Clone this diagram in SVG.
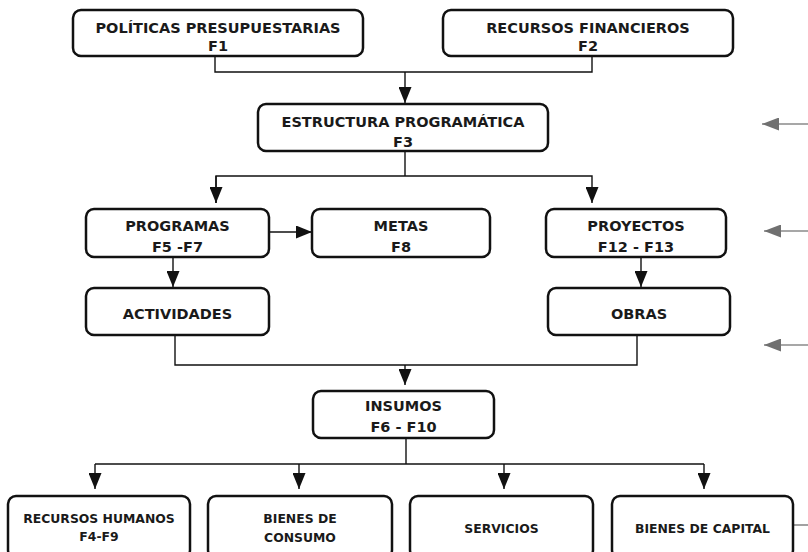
<svg xmlns="http://www.w3.org/2000/svg" width="808" height="552" viewBox="0 0 808 552">
  <defs>
    <style>
      .box { fill: #ffffff; stroke: #111111; stroke-width: 2.5; }
      .t { font-family: "DejaVu Sans", "Liberation Sans", sans-serif; font-weight: bold; font-size: 14.5px; fill: #1a1a1a; text-anchor: middle; }
      .s { font-size: 12.4px; }
      .wire { fill: none; stroke: #111111; stroke-width: 1.4; }
      .side { fill: none; stroke: #8a8a8a; stroke-width: 1.6; }
    </style>
    <marker id="arrow" markerUnits="userSpaceOnUse" markerWidth="16" markerHeight="13" refX="16" refY="6.5" orient="auto">
      <path d="M0,0 L16,6.5 L0,13 z" fill="#111111"/>
    </marker>
    <marker id="arrowGray" markerUnits="userSpaceOnUse" markerWidth="17" markerHeight="13" refX="17" refY="6.5" orient="auto">
      <path d="M0,0 L17,6.5 L0,13 z" fill="#707070"/>
    </marker>
  </defs>

  <!-- connectors -->
  <g id="connectors">
    <path class="wire" d="M215,56 V72 H592 V56"/>
    <path class="wire" d="M405,72 V103" marker-end="url(#arrow)"/>
    <path class="wire" d="M405,151 V176"/>
    <path class="wire" d="M216,203 V176 H592 V203" marker-end="url(#arrow)"/>
    <path class="wire" d="M216,176 V203" marker-end="url(#arrow)"/>
    <path class="wire" d="M269,232 H312" marker-end="url(#arrow)"/>
    <path class="wire" d="M173,257 V287" marker-end="url(#arrow)"/>
    <path class="wire" d="M641,257 V287" marker-end="url(#arrow)"/>
    <path class="wire" d="M175,335 V365 H637 V335"/>
    <path class="wire" d="M405,365 V385" marker-end="url(#arrow)"/>
    <path class="wire" d="M406,438 V464"/>
    <path class="wire" d="M95,464 H704"/>
    <path class="wire" d="M95,464 V489" marker-end="url(#arrow)"/>
    <path class="wire" d="M299,464 V489" marker-end="url(#arrow)"/>
    <path class="wire" d="M504,464 V489" marker-end="url(#arrow)"/>
    <path class="wire" d="M704,464 V489" marker-end="url(#arrow)"/>
    <path class="side" d="M808,124 H762" marker-end="url(#arrowGray)"/>
    <path class="side" d="M808,231 H764" marker-end="url(#arrowGray)"/>
    <path class="side" d="M808,345 H764" marker-end="url(#arrowGray)"/>
    <path class="side" d="M793,525 H808"/>
  </g>

  <g id="politicas">
    <rect class="box" x="73" y="10" width="290" height="46" rx="8"/>
    <text class="t" x="218" y="32.5">POLÍTICAS PRESUPUESTARIAS</text>
    <text class="t" x="218" y="51">F1</text>
  </g>
  <g id="recursos-financieros">
    <rect class="box" x="443" y="10" width="290" height="46" rx="8"/>
    <text class="t" x="588" y="32.5">RECURSOS FINANCIEROS</text>
    <text class="t" x="588" y="51">F2</text>
  </g>
  <g id="estructura">
    <rect class="box" x="258" y="104" width="290" height="47" rx="8"/>
    <text class="t" x="403" y="126.5">ESTRUCTURA PROGRAMÁTICA</text>
    <text class="t" x="403" y="147">F3</text>
  </g>
  <g id="programas">
    <rect class="box" x="86" y="209" width="183" height="48" rx="8"/>
    <text class="t" x="177.5" y="231">PROGRAMAS</text>
    <text class="t" x="177.5" y="251.5">F5 -F7</text>
  </g>
  <g id="metas">
    <rect class="box" x="312" y="209" width="178" height="48" rx="8"/>
    <text class="t" x="401" y="231">METAS</text>
    <text class="t" x="401" y="251.5">F8</text>
  </g>
  <g id="proyectos">
    <rect class="box" x="546" y="209" width="180" height="48" rx="8"/>
    <text class="t" x="636" y="231">PROYECTOS</text>
    <text class="t" x="636" y="251.5">F12 - F13</text>
  </g>
  <g id="actividades">
    <rect class="box" x="86" y="288" width="183" height="47" rx="8"/>
    <text class="t" x="177.5" y="319">ACTIVIDADES</text>
  </g>
  <g id="obras">
    <rect class="box" x="548" y="288" width="182" height="47" rx="8"/>
    <text class="t" x="639" y="319">OBRAS</text>
  </g>
  <g id="insumos">
    <rect class="box" x="313" y="391" width="181" height="47" rx="8"/>
    <text class="t" x="403.5" y="410.5">INSUMOS</text>
    <text class="t" x="403.5" y="432">F6 - F10</text>
  </g>
  <g id="recursos-humanos">
    <rect class="box" x="8" y="496" width="182" height="62" rx="8"/>
    <text class="t s" x="99" y="523">RECURSOS HUMANOS</text>
    <text class="t s" x="99" y="541">F4-F9</text>
  </g>
  <g id="bienes-consumo">
    <rect class="box" x="208" y="496" width="184" height="62" rx="8"/>
    <text class="t s" x="300" y="523">BIENES DE</text>
    <text class="t s" x="300" y="541.5">CONSUMO</text>
  </g>
  <g id="servicios">
    <rect class="box" x="410" y="496" width="183" height="62" rx="8"/>
    <text class="t s" x="501.5" y="532.5">SERVICIOS</text>
  </g>
  <g id="bienes-capital">
    <rect class="box" x="612" y="496" width="181" height="62" rx="8"/>
    <text class="t s" x="702.5" y="532.5">BIENES DE CAPITAL</text>
  </g>
</svg>
